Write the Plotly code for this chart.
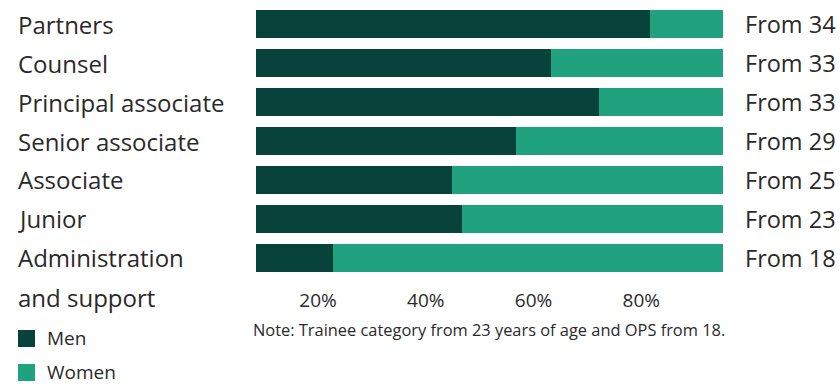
import plotly.graph_objects as go

# Share of men per category (%); women make up the rest
categories = ["Partners", "Counsel", "Principal associate", "Senior associate",
              "Associate", "Junior", "Administration<br>and support"]
men = [81.6, 63.2, 72.2, 56.8, 44.9, 46.7, 22.8]
women = [100 - m for m in men]
age_labels = ["From 34", "From 33", "From 33", "From 29", "From 25", "From 23", "From 18"]
tick_values = [20, 40, 60, 80]
tick_labels = [f"{v}%" for v in tick_values]
series_names = ["Men", "Women"]
note = "Note: Trainee category from 23 years of age and OPS from 18."

COLORS = {"Men": "#07433a", "Women": "#21a27f"}
TEXT = "#2a2a2a"
FONT = "Open Sans"

W, H = 840, 384
L, R, T, B = 256, 117, 5, 107
PW, PH = W - L - R, H - T - B


def px_x(px):
    return (px - L) / PW


def px_y(py):
    return 1 - (py - T) / PH


fig = go.Figure()
for name, vals in zip(series_names, [men, women]):
    fig.add_trace(go.Bar(
        y=categories, x=vals, name=name, orientation="h",
        marker=dict(color=COLORS[name], line=dict(width=0)),
        showlegend=False, hoverinfo="x+name",
    ))

annotations = []
# category labels on the left (multi-line names drawn one line per row)
for cat in categories:
    for i, line in enumerate(cat.split("<br>")):
        annotations.append(dict(
            x=px_x(16), xref="paper", y=cat, yref="y", text=line,
            xanchor="left", yanchor="middle", showarrow=False, yshift=-40 * i,
            font=dict(family=FONT, size=24, color=TEXT),
        ))
# age thresholds on the right
for cat, lab in zip(categories, age_labels):
    annotations.append(dict(
        x=px_x(743), xref="paper", y=cat, yref="y", text=lab,
        xanchor="left", yanchor="middle", showarrow=False,
        font=dict(family=FONT, size=23.5, color=TEXT),
    ))
# footnote
annotations.append(dict(
    x=px_x(251), xref="paper", y=px_y(329), yref="paper", text=note,
    xanchor="left", yanchor="middle", showarrow=False,
    font=dict(family=FONT, size=16.4, color=TEXT),
))

# legend: swatches with labels
shapes = []
for i, name in enumerate(series_names):
    top = 330 + 34 * i
    shapes.append(dict(
        type="rect", xref="paper", yref="paper",
        x0=px_x(18), x1=px_x(35), y0=px_y(top), y1=px_y(top + 17),
        fillcolor=COLORS[name], line=dict(width=0),
    ))
    annotations.append(dict(
        x=px_x(46), xref="paper", y=px_y(top + 8), yref="paper", text=name,
        xanchor="left", yanchor="middle", showarrow=False, borderpad=0,
        font=dict(family=FONT, size=19, color=TEXT),
    ))

fig.update_layout(
    width=W, height=H,
    margin=dict(l=L, r=R, t=T, b=B, pad=0),
    barmode="stack", bargap=0.28,
    plot_bgcolor="white", paper_bgcolor="white",
    font=dict(family=FONT, color=TEXT),
    annotations=annotations, shapes=shapes,
    xaxis=dict(
        range=[8.49, 95.17], tickvals=tick_values, ticktext=tick_labels,
        showgrid=False, zeroline=False, showline=False, ticks="",
        tickfont=dict(family=FONT, size=19, color=TEXT), ticklabelstandoff=10,
    ),
    yaxis=dict(
        autorange="reversed", showticklabels=False, showgrid=False,
        zeroline=False, showline=False, ticks="",
    ),
)

fig.write_html("out.html")
